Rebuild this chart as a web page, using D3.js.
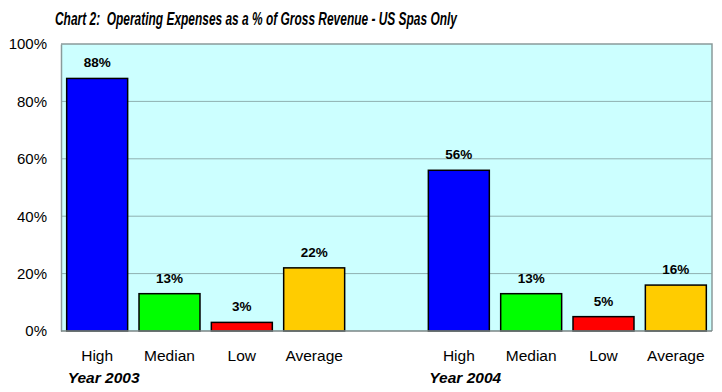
<!DOCTYPE html>
<html><head><meta charset="utf-8">
<script src="https://cdn.jsdelivr.net/npm/d3@7"></script>
<style>body{margin:0;background:#fff}svg{display:block}</style>
</head><body>
<svg id="c" width="722" height="392"></svg>
<script>
const title = "Chart 2:  Operating Expenses as a % of Gross Revenue - US Spas Only";
const categories = ["High", "Median", "Low", "Average"];
const years = ["Year 2003", "Year 2004"];
const values2003 = [88, 13, 3, 22];
const values2004 = [56, 13, 5, 16];
const colors = ["#0000FF", "#00FF00", "#FF0000", "#FFCC00"];
const yTicks = [0, 20, 40, 60, 80, 100];

const svg = d3.select("#c");
const L = 61, R = 712, T = 44, B = 331;

const rows = [];
values2003.forEach((v, i) => rows.push({key: "a" + i, cat: categories[i], v, c: colors[i], g: 0}));
rows.push({key: "gap", gap: true});
values2004.forEach((v, i) => rows.push({key: "b" + i, cat: categories[i], v, c: colors[i], g: 1}));

const x = d3.scaleBand().domain(rows.map(d => d.key)).range([L, R]).paddingInner(0.157).paddingOuter(0.0785);
const y = d3.scaleLinear().domain([0, 100]).range([B, T]);

svg.append("rect").attr("x", L).attr("y", T).attr("width", R - L).attr("height", B - T).attr("fill", "#CCFFFF");

svg.append("g").selectAll("line").data(yTicks.filter(t => t > 0 && t < 100)).join("line")
  .attr("x1", L).attr("x2", R).attr("y1", d => y(d)).attr("y2", d => y(d))
  .attr("stroke", "#8fb0b0").attr("stroke-width", 1);

svg.append("path").attr("d", `M${L},${T}H${R}V${B}`).attr("fill", "none").attr("stroke", "#8a9a9a").attr("stroke-width", 1.5);

const yAxis = d3.axisLeft(y).tickValues(yTicks).tickSize(0).tickPadding(14).tickFormat(d => d + "%");
const ga = svg.append("g").attr("transform", `translate(${L},0)`).call(yAxis);
ga.select(".domain").attr("stroke", "#8a9a9a").attr("stroke-width", 1.5);
ga.selectAll("text").attr("font-family", "Arial, 'Liberation Sans', sans-serif").attr("font-size", 15).attr("fill", "#000");

const bars = rows.filter(d => !d.gap);
svg.append("g").selectAll("rect").data(bars).join("rect")
  .attr("x", d => x(d.key)).attr("width", x.bandwidth())
  .attr("y", d => y(d.v)).attr("height", d => y(0) - y(d.v))
  .attr("fill", d => d.c).attr("stroke", "#000").attr("stroke-width", 1.5);

svg.append("line").attr("x1", L).attr("x2", R).attr("y1", B).attr("y2", B).attr("stroke", "#7a8585").attr("stroke-width", 1.5);

svg.append("g").selectAll("text").data(bars).join("text")
  .attr("x", d => x(d.key) + x.bandwidth() / 2).attr("y", d => y(d.v) - 11)
  .attr("text-anchor", "middle").attr("font-family", "Arial, 'Liberation Sans', sans-serif")
  .attr("font-weight", "bold").attr("font-size", 13.5).text(d => d.v + "%");

svg.append("g").selectAll("text").data(bars).join("text")
  .attr("x", d => x(d.key) + x.bandwidth() / 2).attr("y", 361)
  .attr("text-anchor", "middle").attr("font-family", "Arial, 'Liberation Sans', sans-serif")
  .attr("font-size", 15.5).text(d => d.cat);

svg.append("g").selectAll("text").data(years).join("text")
  .attr("x", (d, i) => x(i === 0 ? "a0" : "b0") + 1).attr("y", 383)
  .attr("font-family", "Arial, 'Liberation Sans', sans-serif")
  .attr("font-weight", "bold").attr("font-style", "italic").attr("font-size", 15.5).text(d => d);

svg.append("text").attr("x", 55).attr("y", 25)
  .style("white-space", "pre")
  .attr("font-family", "'Liberation Sans Narrow', 'Arial Narrow', Arial, sans-serif")
  .attr("font-weight", "bold").attr("font-style", "italic").attr("font-size", 18)
  .attr("textLength", 402).attr("lengthAdjust", "spacingAndGlyphs").text(title);
</script>
</body></html>
